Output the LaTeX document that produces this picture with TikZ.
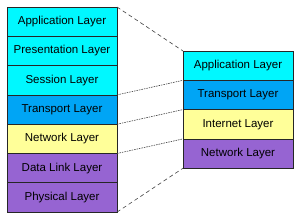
\documentclass[tikz,border=0pt]{standalone}
\usepackage{fontspec}
\setmainfont{Liberation Sans}
\usetikzlibrary{positioning}

\definecolor{laycyan}{RGB}{0,248,255}
\definecolor{layblue}{RGB}{0,165,245}
\definecolor{layyellow}{RGB}{255,255,153}
\definecolor{laypurple}{RGB}{150,100,210}

\begin{document}
\begin{tikzpicture}[x=1pt,y=1pt,
  layer/.style={draw=black!85, line width=0.7pt, minimum width=110pt,
    minimum height=29.3pt, inner sep=0pt, outer sep=0pt,
    font=\fontsize{11.5}{13}\selectfont},
  longdash/.style={draw=black!75, line width=0.6pt, dash pattern=on 4pt off 3pt},
  shortdash/.style={draw=black!75, line width=0.6pt, dash pattern=on 1.5pt off 1pt}]
  \useasboundingbox (0,0) rectangle (300,-220);
  % OSI model
  \node[layer, fill=laycyan] (app) at (62,-21.65) {Application Layer};
  \node[layer, fill=laycyan, below=0pt of app] (pres) {Presentation Layer};
  \node[layer, fill=laycyan, below=0pt of pres] (sess) {Session Layer};
  \node[layer, fill=layblue, below=0pt of sess] (trans) {Transport Layer};
  \node[layer, fill=layyellow, below=0pt of trans] (net) {Network Layer};
  \node[layer, fill=laypurple, below=0pt of net] (link) {Data Link Layer};
  \node[layer, fill=laypurple, below=0pt of link] (phys) {Physical Layer};
  % TCP/IP model
  \node[layer, fill=laycyan] (tapp) at (238,-65.65) {Application Layer};
  \node[layer, fill=layblue, below=0pt of tapp] (ttrans) {Transport Layer};
  \node[layer, fill=layyellow, below=0pt of ttrans] (tinet) {Internet Layer};
  \node[layer, fill=laypurple, below=0pt of tinet] (tnet) {Network Layer};
  % mapping lines
  \draw[longdash] (app.north east) -- (tapp.north west);
  \draw[shortdash] (sess.south east) -- (ttrans.north west);
  \draw[shortdash] (trans.south east) -- (tinet.north west);
  \draw[shortdash] (net.south east) -- (tnet.north west);
  \draw[longdash] (phys.south east) -- (tnet.south west);
\end{tikzpicture}
\end{document}
